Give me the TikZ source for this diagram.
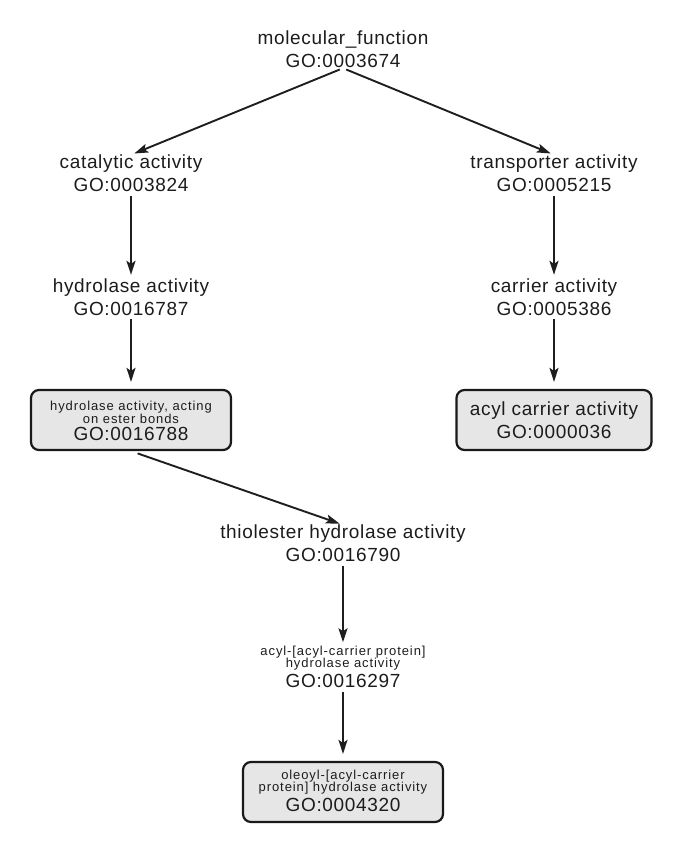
\documentclass[tikz,border=0pt]{standalone}
\usepackage{fontspec}
\setmainfont{Liberation Sans}
\newfontfamily\bgface{Liberation Sans}[LetterSpace=3.5]
\newfontfamily\smface{Liberation Sans}[LetterSpace=7]
\usetikzlibrary{arrows.meta}
\definecolor{txt}{HTML}{1C1C1C}
\definecolor{ln}{HTML}{1E1E1E}
\definecolor{boxfill}{HTML}{E6E6E6}
\newcommand{\bgtxt}{\bgface\fontsize{19}{23}\selectfont}
\newcommand{\smtxt}{\smface\fontsize{13}{12.5}\selectfont}
\tikzset{
  term/.style={align=center, inner sep=0pt, text=txt, font=\bgtxt},
  termbox/.style={draw=black!90, line width=2.2pt, fill=boxfill, rounded corners=8pt,
    minimum width=200pt, minimum height=60pt, inner sep=0pt},
  boxtext/.style={align=center, inner sep=0pt, text=txt},
  isa/.style={draw=ln, line width=1.9pt, -{Stealth[length=14pt,width=9pt,inset=3pt]},
    shorten <=3.5pt, shorten >=3.5pt},
  isabox/.style={isa, shorten >=7pt},
  fromboxarrow/.style={isa, shorten <=7pt}
}
\begin{document}
\begin{tikzpicture}[x=1pt,y=-1pt]
\useasboundingbox (0,0) rectangle (685,848);
\node[term] (mf) at (343,49.5) {molecular\_function\\GO:0003674};
\node[term] (cat) at (131,173.5) {catalytic activity\\GO:0003824};
\node[term] (tra) at (554,173.5) {transporter activity\\GO:0005215};
\node[term] (hyd) at (131,297) {hydrolase activity\\GO:0016787};
\node[term] (car) at (554,297) {carrier activity\\GO:0005386};
\node[termbox] (est) at (131,420) {};
\node[boxtext, font=\smtxt] (estt) at (131,421) {hydrolase activity, acting\\on ester bonds\\[3pt]{\bgtxt GO:0016788}};
\node[termbox, minimum width=195pt] (acb) at (554,420) {};
\node[boxtext, font=\bgtxt] (acbt) at (554,420) {acyl carrier activity\\GO:0000036};
\node[term] (thi) at (343,543.5) {thiolester hydrolase activity\\GO:0016790};
\node[boxtext, font=\smtxt] (acp) at (343,667) {acyl-[acyl-carrier protein]\\hydrolase activity\\[3pt]{\bgtxt GO:0016297}};
\node[termbox] (ole) at (343,792) {};
\node[boxtext, font=\smtxt] (olet) at (343,791) {oleoyl-[acyl-carrier\\protein] hydrolase activity\\[3pt]{\bgtxt GO:0004320}};
\draw[isa] (mf.south) -- (cat.north);
\draw[isa] (mf.south) -- (tra.north);
\draw[isa] (cat.south) -- (hyd.north);
\draw[isa] (tra.south) -- (car.north);
\draw[isabox] (hyd.south) -- (est.north);
\draw[isabox] (car.south) -- (acb.north);
\draw[fromboxarrow] (est.south) -- (thi.north);
\draw[isa] (thi.south) -- (acp.north);
\draw[isabox] (acp.south) -- (ole.north);
\end{tikzpicture}
\end{document}
